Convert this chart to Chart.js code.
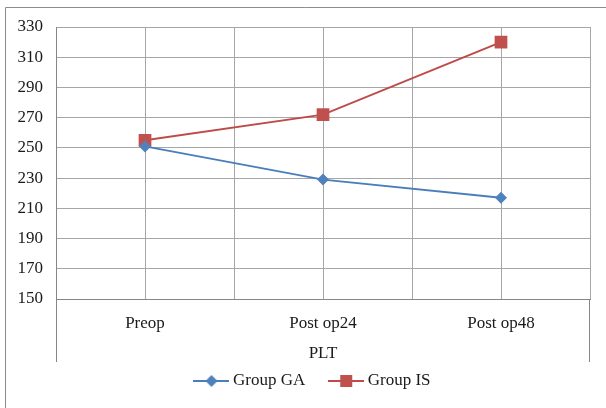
<!DOCTYPE html>
<html>
<head>
<meta charset="utf-8">
<script src="https://cdn.jsdelivr.net/npm/chart.js@4.4.1/dist/chart.umd.min.js"></script>
<style>
  html, body { margin: 0; padding: 0; background: #ffffff; }
  #wrap { position: relative; width: 606px; height: 408px; }
</style>
</head>
<body>
<div id="wrap"><canvas id="c" width="606" height="408"></canvas></div>
<script>
// Platelet count by time point
const categories = ['Preop', 'Post op24', 'Post op48'];
const groupGA = [251, 229, 217];
const groupIS = [255, 272, 320];
const seriesNames = ['Group GA', 'Group IS'];
const axisTitle = 'PLT';
const yTicks = [150, 170, 190, 210, 230, 250, 270, 290, 310, 330];

const BLUE = '#4a7ebb';
const BLUE_FILL = '#4f81bd';
const RED = '#be4b48';
const RED_FILL = '#c0504d';
const GRID = '#a6a6a6';
const AXIS = '#868686';
const TEXT = '#1a1a1a';
const FONT = { family: '"Liberation Serif", "Times New Roman", serif', size: 17 };

// Legend swatch: short line with the series marker in its middle
function swatch(color, fill, shape) {
  const cv = document.createElement('canvas');
  cv.width = 36; cv.height = 14;
  const g = cv.getContext('2d');
  g.strokeStyle = color; g.lineWidth = 2;
  g.beginPath(); g.moveTo(0, 7); g.lineTo(36, 7); g.stroke();
  g.fillStyle = fill;
  if (shape === 'diamond') {
    g.beginPath(); g.moveTo(18, 1); g.lineTo(24, 7); g.lineTo(18, 13); g.lineTo(12, 7); g.closePath(); g.fill();
  } else {
    g.fillRect(12, 1, 12, 12);
  }
  return cv;
}
const swatches = [swatch(BLUE, BLUE_FILL, 'diamond'), swatch(RED, RED_FILL, 'square')];

const toPoints = arr => arr.map((v, i) => ({ x: i, y: v }));

// Outer frame plus the separators that bound the category label band
const framePlugin = {
  id: 'frame',
  afterDraw(chart) {
    const { ctx, chartArea } = chart;
    ctx.save();
    ctx.strokeStyle = '#8c8c8c';
    ctx.lineWidth = 1;
    ctx.beginPath();
    ctx.moveTo(5.5, 408); ctx.lineTo(5.5, 7.5); ctx.lineTo(606, 7.5);
    ctx.stroke();
    ctx.strokeStyle = AXIS;
    ctx.beginPath();
    const l = Math.round(chartArea.left) + 0.5, r = Math.round(chartArea.right) - 0.5;
    const b = chartArea.bottom;
    ctx.moveTo(l, b); ctx.lineTo(l, b + 63);
    ctx.moveTo(r, b); ctx.lineTo(r, b + 63);
    ctx.stroke();
    ctx.restore();
  }
};

new Chart(document.getElementById('c'), {
  type: 'line',
  data: {
    datasets: [
      {
        label: seriesNames[0],
        data: toPoints(groupGA),
        borderColor: BLUE,
        backgroundColor: BLUE_FILL,
        borderWidth: 2,
        pointStyle: 'rectRot',
        pointRadius: 6,
        pointBorderWidth: 0,
        pointBackgroundColor: BLUE_FILL,
        tension: 0
      },
      {
        label: seriesNames[1],
        data: toPoints(groupIS),
        borderColor: RED,
        backgroundColor: RED_FILL,
        borderWidth: 2,
        pointStyle: 'rect',
        pointRadius: 9,
        pointBorderWidth: 0,
        pointBackgroundColor: RED_FILL,
        tension: 0
      }
    ]
  },
  options: {
    responsive: false,
    animation: false,
    layout: { padding: { top: 27, right: -23, left: 0, bottom: 8.5 } },
    scales: {
      x: {
        type: 'linear',
        min: -0.5,
        max: categories.length - 0.5,
        afterBuildTicks(scale) {
          const t = [];
          for (let v = -0.5; v <= categories.length - 0.5 + 1e-9; v += 0.5) t.push({ value: v });
          scale.ticks = t;
        },
        afterFit(scale) { scale.height = 45.5; },
        ticks: {
          autoSkip: false,
          maxRotation: 0,
          padding: 14,
          color: TEXT,
          font: FONT,
          callback: v => (Number.isInteger(v) ? categories[v] : '')
        },
        grid: { color: GRID, lineWidth: 1, drawTicks: false },
        border: { color: AXIS, width: 1 },
        title: { display: true, text: axisTitle, color: TEXT, font: FONT, padding: { top: 4, bottom: -19.5 } }
      },
      y: {
        min: yTicks[0],
        max: yTicks[yTicks.length - 1],
        afterBuildTicks(scale) { scale.ticks = yTicks.map(v => ({ value: v })); },
        afterFit(scale) { scale.width = 56; },
        ticks: { padding: 13, color: TEXT, font: FONT },
        grid: { color: GRID, lineWidth: 1, drawTicks: false },
        border: { color: AXIS, width: 1 }
      },
      // empty right-hand margin beside the plot
      yRight: {
        position: 'right',
        min: yTicks[0],
        max: yTicks[yTicks.length - 1],
        afterFit(scale) { scale.width = 39; },
        ticks: { display: false },
        grid: { display: false, drawTicks: false },
        border: { display: false }
      }
    },
    plugins: {
      tooltip: { enabled: false },
      legend: {
        position: 'bottom',
        labels: {
          usePointStyle: true,
          pointStyleWidth: 26,
          padding: 28,
          color: TEXT,
          font: FONT,
          generateLabels(chart) {
            return chart.data.datasets.map((ds, i) => ({
              text: ds.label,
              pointStyle: swatches[i],
              fillStyle: ds.backgroundColor,
              strokeStyle: ds.borderColor,
              lineWidth: 0,
              fontColor: TEXT,
              hidden: false,
              datasetIndex: i
            }));
          }
        }
      }
    }
  },
  plugins: [framePlugin]
});
</script>
</body>
</html>
